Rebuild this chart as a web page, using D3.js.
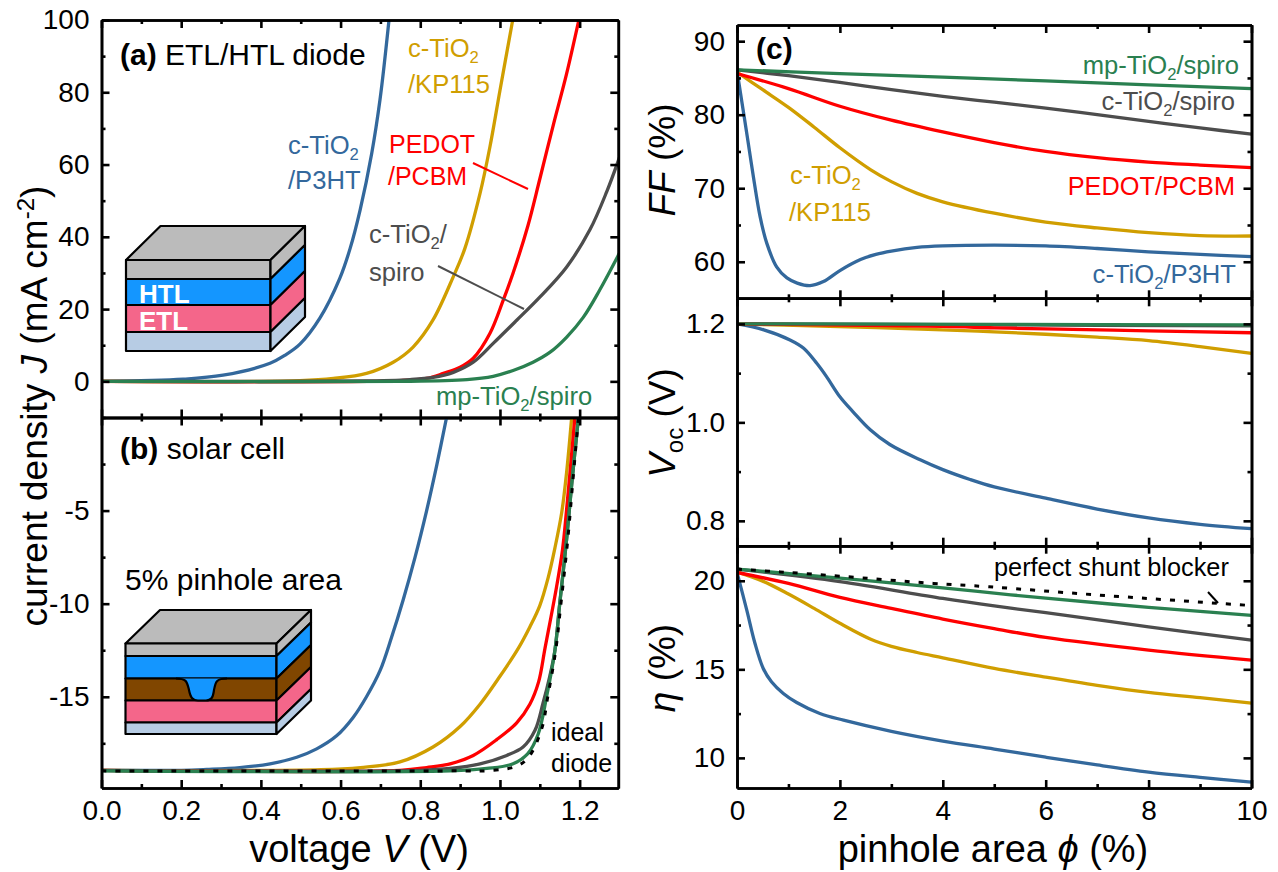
<!DOCTYPE html>
<html>
<head>
<meta charset="utf-8">
<script src="https://cdnjs.cloudflare.com/ajax/libs/d3/7.8.5/d3.min.js"></script>
<style>
  html, body { margin: 0; background: #fff; }
  svg { display: block; font-family: "Liberation Sans", Arial, sans-serif; }
  .tick text { font-size: 28px; fill: #000; }
</style>
</head>
<body>
<div id="chart"></div>
<script>
// panel (a) dark J-V, [V, J]
var darkP3ht = [[0,0],[0.205,0.6],[0.305,1.7],[0.423,5],[0.46,7.2],[0.498,10.3],[0.548,17.5],[0.598,28.5],[0.624,36.8],[0.649,47.4],[0.678,63],[0.699,78],[0.7215,100]]
var darkKp115 = [[0,0],[0.498,0.2],[0.582,0.8],[0.665,2.2],[0.732,5.3],[0.782,9.5],[0.832,17],[0.883,29],[0.912,36.8],[0.95,52],[0.975,65],[1.0,80.5],[1.032,100]]
var darkPedot = [[0,0],[0.749,0.2],[0.816,0.8],[0.858,2.2],[0.9,3.9],[0.933,6.4],[0.975,13.3],[1.008,22.4],[1.033,30],[1.07,43],[1.1,56],[1.134,71],[1.167,85],[1.198,100]]
var darkSpiro = [[0,0],[0.65,0.1],[0.774,0.5],[0.832,1.1],[0.883,2.5],[0.933,5.3],[0.983,10.5],[1.042,16.9],[1.1,23.3],[1.167,31.6],[1.226,42],[1.268,52.5],[1.3,62]]
var darkMp = [[0,0],[0.75,0],[0.917,0.5],[0.983,1.4],[1.033,3],[1.083,5.3],[1.125,8],[1.167,12.2],[1.209,17.7],[1.25,25.2],[1.3,35.5]]

// panel (b) light J-V, [V, J]
var lightP3ht = [[0,-18.95],[0.2,-18.95],[0.264,-18.9],[0.347,-18.8],[0.423,-18.6],[0.49,-18.25],[0.54,-17.8],[0.59,-17.1],[0.632,-16.1],[0.665,-15],[0.699,-13.6],[0.728,-11.8],[0.757,-9.8],[0.787,-7.5],[0.816,-5],[0.841,-2.6],[0.866,0]]
var lightKp115 = [[0,-18.95],[0.55,-18.92],[0.65,-18.8],[0.749,-18.5],[0.832,-17.7],[0.9,-16.6],[0.95,-15.4],[1.0,-13.9],[1.046,-12.4],[1.075,-11.25],[1.1,-10.1],[1.121,-8.6],[1.138,-7],[1.155,-5.1],[1.167,-3],[1.18,0]]
var lightPedot = [[0,-18.95],[0.749,-18.95],[0.816,-18.8],[0.875,-18.6],[0.933,-18.15],[0.992,-17.3],[1.042,-16.4],[1.075,-15.4],[1.097,-14.2],[1.113,-12.4],[1.142,-9.1],[1.157,-7.1],[1.167,-5],[1.188,0]]
var lightSpiro = [[0,-18.95],[0.8,-18.95],[0.875,-18.85],[0.95,-18.6],[1.017,-18.15],[1.058,-17.7],[1.088,-16.8],[1.108,-15.35],[1.125,-13.9],[1.138,-12.5],[1.15,-10],[1.167,-6.6],[1.18,-3.6],[1.197,0]]
var lightMp = [[0,-18.98],[0.875,-18.98],[0.967,-18.85],[1.033,-18.6],[1.07,-18.05],[1.096,-17],[1.117,-15],[1.138,-12.5],[1.15,-10],[1.167,-6.6],[1.18,-3.6],[1.197,0]]
var lightIdeal = [[0,-18.98],[0.875,-18.98],[0.983,-18.95],[1.045,-18.7],[1.075,-18.15],[1.105,-16.7],[1.12,-15],[1.14,-12.5],[1.152,-10.2],[1.17,-6.6],[1.183,-3.4],[1.197,0]]

// panel (c) against pinhole area, [phi, value]
var ffP3ht = [[0,86],[0.1,81.5],[0.2,77],[0.32,71.5],[0.45,66.1],[0.58,62.5],[0.77,59.3],[0.97,57.8],[1.17,57.1],[1.42,56.75],[1.68,57.3],[2,58.8],[2.4,60.3],[2.7,61],[3,61.45],[3.5,61.95],[4,62.15],[5,62.25],[6,62.15],[7,61.8],[8,61.35],[9,61],[10,60.7]]
var ffKp115 = [[0,85.8],[0.5,83.4],[1,81],[1.5,78.3],[2,75.5],[2.6,72.5],[3,70.9],[3.5,69.3],[4,68.15],[5,66.6],[6,65.4],[7,64.6],[8,63.95],[9,63.55],[10,63.5]]
var ffPedot = [[0,85.6],[1,83.55],[2,81.15],[3,79.25],[4,77.65],[5,76.2],[6,75],[7,74.15],[8,73.55],[9,73.15],[10,72.8]]
var ffSpiro = [[0,86.1],[1,85.3],[2,84.4],[3,83.4],[4,82.5],[5,81.7],[6,80.9],[7,80],[8,79.1],[9,78.2],[10,77.35]]
var ffMp = [[0,86.1],[2,85.6],[4,85.1],[6,84.6],[8,84.05],[10,83.55]]

var vocP3ht = [[0,1.2],[0.52,1.188],[1.03,1.1675],[1.29,1.151],[1.55,1.12],[1.74,1.093],[2,1.052],[2.26,1.021],[2.59,0.985],[2.97,0.955],[3.56,0.924],[4,0.904],[4.53,0.884],[5,0.869],[6,0.846],[7,0.824],[8,0.806],[9,0.793],[10,0.784]]
var vocKp115 = [[0,1.2],[1.8,1.195],[4,1.188],[5,1.184],[6,1.179],[7,1.173],[8,1.166],[9,1.154],[10,1.14]]
var vocPedot = [[0,1.2],[4,1.195],[5,1.192],[6,1.19],[8,1.186],[10,1.182]]
var vocSpiro = [[0,1.2],[5,1.198],[10,1.196]]
var vocMp = [[0,1.2],[5,1.199],[10,1.198]]

var etaP3ht = [[0,20.47],[0.19,18.34],[0.35,16.46],[0.51,15.05],[0.67,14.3],[0.9,13.64],[1.16,13.13],[1.61,12.51],[2.07,12.13],[3,11.5],[4,10.95],[5,10.5],[6,10.04],[7,9.6],[8,9.2],[9,8.9],[10,8.63]]
var etaKp115 = [[0,20.5],[0.5,19.98],[1,19.25],[1.5,18.44],[2,17.6],[2.6,16.7],[3,16.3],[3.5,15.95],[4,15.65],[5,15.05],[6,14.56],[7,14.1],[8,13.7],[9,13.4],[10,13.09]]
var etaPedot = [[0,20.47],[1,19.85],[2,19.06],[3,18.44],[4,17.84],[5,17.3],[6,16.8],[8,16.09],[10,15.52]]
var etaSpiro = [[0,20.66],[2,19.95],[4,19],[5,18.58],[6,18.2],[8,17.4],[10,16.65]]
var etaMp = [[0,20.66],[2,20.15],[4,19.6],[5,19.3],[6,19.02],[8,18.5],[10,18.05]]
var etaPerfect = [[0,20.66],[0.84,20.5],[2,20.26],[3.82,19.85],[4.9,19.66],[7,19.2],[10,18.6]]

var voltTicks = [0, 0.2, 0.4, 0.6, 0.8, 1.0, 1.2]
var voltMinor = [0.1, 0.3, 0.5, 0.7, 0.9, 1.1]
var phiTicks = [0, 2, 4, 6, 8, 10]
var phiMinor = [1, 3, 5, 7, 9]

var blue = "#33689c", gold = "#d09e00", red = "#ff0000", grey = "#4d4d4d", green = "#2a8050"

var svg = d3.select("#chart").append("svg").attr("width", 1278).attr("height", 872)

var xV = d3.scaleLinear().domain([0, 1.297]).range([101.5, 618.3])
var xPhi = d3.scaleLinear().domain([0, 10]).range([737, 1251.5])

var hyphenInt = function(d) { return d3.format("d")(d).replace("\u2212", "-") }

var panels = [
  { id: "a", x: xV, y: d3.scaleLinear().domain([-10, 100]).range([417.5, 20]),
    xt: voltTicks, xm: voltMinor, yt: [0, 20, 40, 60, 80, 100], ym: [-10, 10, 30, 50, 70, 90], xfmt: null, yfmt: d3.format("d"),
    lines: [[darkP3ht, blue], [darkKp115, gold], [darkPedot, red], [darkSpiro, grey], [darkMp, green]] },
  { id: "b", x: xV, y: d3.scaleLinear().domain([-19.9, 0]).range([788, 417.5]),
    xt: voltTicks, xm: voltMinor, yt: [-5, -10, -15], ym: [-2.5, -7.5, -12.5, -17.5], xfmt: d3.format(".1f"), yfmt: hyphenInt,
    lines: [[lightP3ht, blue], [lightKp115, gold], [lightPedot, red], [lightSpiro, grey], [lightMp, green], [lightIdeal, "#000", true]] },
  { id: "c1", x: xPhi, y: d3.scaleLinear().domain([55.03, 92.2]).range([298.3, 25]),
    xt: phiTicks, xm: phiMinor, yt: [60, 70, 80, 90], ym: [65, 75, 85], xfmt: null, yfmt: d3.format("d"),
    lines: [[ffP3ht, blue], [ffKp115, gold], [ffSpiro, grey], [ffPedot, red], [ffMp, green]] },
  { id: "c2", x: xPhi, y: d3.scaleLinear().domain([0.7495, 1.252]).range([545.7, 298.3]),
    xt: phiTicks, xm: phiMinor, yt: [0.8, 1.0, 1.2], ym: [0.9, 1.1], xfmt: null, yfmt: d3.format(".1f"),
    lines: [[vocP3ht, blue], [vocKp115, gold], [vocSpiro, grey], [vocPedot, red], [vocMp, green]] },
  { id: "c3", x: xPhi, y: d3.scaleLinear().domain([8.3, 21.98]).range([788, 545.7]),
    xt: phiTicks, xm: phiMinor, yt: [10, 15, 20], ym: [12.5, 17.5], xfmt: d3.format("d"), yfmt: d3.format("d"),
    lines: [[etaP3ht, blue], [etaKp115, gold], [etaPedot, red], [etaSpiro, grey], [etaMp, green], [etaPerfect, "#000", true]] }
]

var majorLen = 8, minorLen = 4

function styleAxis(g) {
  g.selectAll("path").attr("stroke", "#000").attr("stroke-width", 2.6)
  g.selectAll("line").attr("stroke", "#000").attr("stroke-width", 2.6)
}

function drawAxis(gen, scale, transform, ticks, len, fmt) {
  var ax = gen(scale).tickValues(ticks).tickSize(-len).tickSizeOuter(0)
  if (fmt) ax.tickFormat(fmt).tickPadding(12)
  else ax.tickFormat("")
  svg.append("g").attr("transform", transform).attr("font-family", null).attr("font-size", null).call(ax).call(styleAxis)
}

panels.forEach(function(p) {
  var x0 = p.x.range()[0], x1 = p.x.range()[1], yB = p.y.range()[0], yT = p.y.range()[1]

  svg.append("clipPath").attr("id", "clip-" + p.id)
    .append("rect").attr("x", x0).attr("y", yT).attr("width", x1 - x0).attr("height", yB - yT)

  var line = d3.line().x(function(d) { return p.x(d[0]) }).y(function(d) { return p.y(d[1]) }).curve(d3.curveCatmullRom.alpha(0.5))
  var g = svg.append("g").attr("clip-path", "url(#clip-" + p.id + ")").attr("fill", "none")
  p.lines.forEach(function(l) {
    var path = g.append("path").attr("d", line(l[0])).attr("stroke", l[1])
    if (l[2]) path.attr("stroke-width", 3).attr("stroke-dasharray", "5 9")
    else path.attr("stroke-width", 3.3)
  })

  // major and minor ticks on all four sides, pointing in
  drawAxis(d3.axisLeft, p.y, "translate(" + x0 + ",0)", p.yt, majorLen, p.yfmt)
  drawAxis(d3.axisLeft, p.y, "translate(" + x0 + ",0)", p.ym, minorLen, null)
  drawAxis(d3.axisRight, p.y, "translate(" + x1 + ",0)", p.yt, majorLen, null)
  drawAxis(d3.axisRight, p.y, "translate(" + x1 + ",0)", p.ym, minorLen, null)
  drawAxis(d3.axisBottom, p.x, "translate(0," + yB + ")", p.xt, majorLen, p.xfmt)
  drawAxis(d3.axisBottom, p.x, "translate(0," + yB + ")", p.xm, minorLen, null)
  drawAxis(d3.axisTop, p.x, "translate(0," + yT + ")", p.xt, majorLen, null)
  drawAxis(d3.axisTop, p.x, "translate(0," + yT + ")", p.xm, minorLen, null)
})

// text with italic / bold / sub / sup runs
function rich(x, y, parts, size, color, anchor, rotate) {
  var t = svg.append("text").attr("font-size", size).attr("fill", color || "#000")
    .attr("text-anchor", anchor || "start")
  if (rotate) t.attr("transform", "translate(" + x + "," + y + ") rotate(-90)")
  else t.attr("x", x).attr("y", y)
  var shift = 0
  parts.forEach(function(r) {
    if (typeof r == "string") r = { t: r }
    var s = t.append("tspan").text(r.t)
    var next = r.sub ? size * 0.22 : r.sup ? -size * 0.36 : 0
    if (next != shift) s.attr("dy", next - shift)
    shift = next
    if (r.i) s.attr("font-style", "italic")
    if (r.b) s.attr("font-weight", "bold")
    if (r.sub || r.sup) s.attr("font-size", size * 0.65)
  })
}

var tio2 = ["c-TiO", { t: "2", sub: true }]

// axis titles
rich(47, 406, ["current density ", { t: "J", i: true }, " (mA cm", { t: "-2", sup: true }, ")"], 37, "#000", "middle", true)
rich(359, 862, ["voltage ", { t: "V", i: true }, " (V)"], 38, "#000", "middle")
rich(993, 862, ["pinhole area ", { t: "\u03d5", i: true }, " (%)"], 38, "#000", "middle")
rich(675, 160, [{ t: "FF", i: true }, " (%)"], 37, "#000", "middle", true)
rich(675, 423, [{ t: "V", i: true }, { t: "oc", sub: true }, " (V)"], 37, "#000", "middle", true)
rich(675, 668, [{ t: "\u03b7", i: true }, " (%)"], 37, "#000", "middle", true)

// panel labels
rich(120, 65, [{ t: "(a)", b: true }, " ETL/HTL diode"], 30)
rich(120, 459, [{ t: "(b)", b: true }, " solar cell"], 30)
rich(125, 590, ["5% pinhole area"], 30)
rich(756, 59, [{ t: "(c)", b: true }], 30)

// curve labels, panel a
rich(408, 57, tio2, 25.6, gold)
rich(408, 93, ["/KP115"], 25.6, gold)
rich(288, 154, tio2, 25.6, blue)
rich(288, 189, ["/P3HT"], 25.6, blue)
rich(389, 153, ["PEDOT"], 25, red)
rich(388, 185, ["/PCBM"], 25, red)
rich(369, 243, tio2.concat("/"), 25.6, grey)
rich(369, 281, ["spiro"], 25.6, grey)
rich(436, 405, ["mp-TiO", { t: "2", sub: true }, "/spiro"], 25.6, green)
rich(551, 741, ["ideal"], 25)
rich(551, 772, ["diode"], 25)

// curve labels, panel c
rich(1239, 74, ["mp-TiO", { t: "2", sub: true }, "/spiro"], 25.6, green, "end")
rich(1235, 110, tio2.concat("/spiro"), 25.6, grey, "end")
rich(1235, 195, ["PEDOT/PCBM"], 25.3, red, "end")
rich(1236, 283, tio2.concat("/P3HT"), 25.6, blue, "end")
rich(790, 184, tio2, 25.6, gold)
rich(789, 221, ["/KP115"], 25.6, gold)
rich(994, 576, ["perfect shunt blocker"], 25.3)

// leader lines
function leader(x1, y1, x2, y2, color) {
  svg.append("line").attr("x1", x1).attr("y1", y1).attr("x2", x2).attr("y2", y2)
    .attr("stroke", color).attr("stroke-width", 2)
}
leader(473, 163, 528, 189, red)
leader(438, 266, 524, 309, grey)
leader(1208, 592, 1218, 603, "#000")

// device sketches
function stack(x0, x1, dx, dy, layers) {
  var g = svg.append("g").attr("stroke", "#000").attr("stroke-width", 2.2).attr("stroke-linejoin", "round")
  // top face
  var top = layers[0][0]
  g.append("path").attr("fill", "#bbbbbb")
    .attr("d", "M" + x0 + "," + top + "L" + (x0 + dx) + "," + (top - dy) + "L" + (x1 + dx) + "," + (top - dy) + "L" + x1 + "," + top + "Z")
  layers.forEach(function(l) {
    g.append("rect").attr("x", x0).attr("y", l[0]).attr("width", x1 - x0).attr("height", l[1] - l[0]).attr("fill", l[2])
    g.append("path").attr("fill", l[2])
      .attr("d", "M" + x1 + "," + l[0] + "L" + (x1 + dx) + "," + (l[0] - dy) + "L" + (x1 + dx) + "," + (l[1] - dy) + "L" + x1 + "," + l[1] + "Z")
  })
  return g
}

stack(126, 270.5, 34.5, 34, [
  [260, 279, "#bbbbbb"], [279, 305, "#1496ff"], [305, 332, "#f4668a"], [332, 351, "#b7cce4"]
])
svg.append("text").attr("x", 139).attr("y", 303).attr("font-size", 26).attr("font-weight", "bold").attr("fill", "#fff").text("HTL")
svg.append("text").attr("x", 139).attr("y", 330).attr("font-size", 26).attr("font-weight", "bold").attr("fill", "#fff").text("ETL")

var gb = stack(125.5, 276.5, 34.5, 33.5, [
  [643.5, 656, "#bbbbbb"], [656, 678.5, "#1496ff"], [678.5, 700.5, "#804600"], [700.5, 722.5, "#f4668a"], [722.5, 734, "#b7cce4"]
])
gb.append("path").attr("fill", "#1496ff")
  .attr("d", "M176,678.5C187,678.5 187,682 189,690C190.5,698 193,700.5 198,700.5L206,700.5C211,700.5 213,698 214,690C215.5,682 216,678.5 227,678.5")
</script>
</body>
</html>
